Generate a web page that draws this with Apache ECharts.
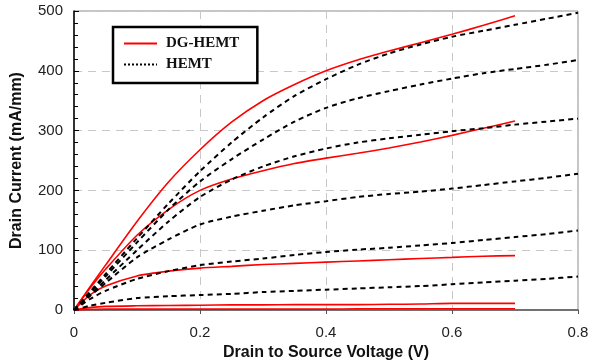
<!DOCTYPE html>
<html>
<head>
<meta charset="utf-8">
<script src="https://cdn.jsdelivr.net/npm/echarts@6/dist/echarts.min.js"></script>
<style>
  html, body { margin: 0; padding: 0; background: #fff; }
  #chart { width: 593px; height: 361px; }
</style>
</head>
<body>
<div id="chart"></div>
<script>
// drain voltage sample points (V)
const vDG = [0, 0.025, 0.05, 0.1, 0.15, 0.2, 0.25, 0.3, 0.35, 0.4, 0.45, 0.5, 0.55, 0.6, 0.65, 0.7];
const vHEMT = [0, 0.025, 0.05, 0.1, 0.15, 0.2, 0.25, 0.3, 0.35, 0.4, 0.45, 0.5, 0.55, 0.6, 0.65, 0.7, 0.75, 0.8];

// DG-HEMT drain current (mA/mm), one array per gate bias
const dg1 = [0, 38, 75, 148, 214, 268, 314, 350, 377, 400, 418, 433, 447, 461, 476, 492];
const dg2 = [0, 36, 68, 125, 168, 200, 219, 233, 245, 254, 262, 271, 281, 292, 304, 316];
const dg3 = [0, 25, 40, 57, 65, 70, 73, 76, 78, 80, 82, 84, 86, 88, 90, 91];
const dg4 = [0, 4, 6, 7, 7.5, 8, 8.5, 8.5, 9, 9, 9, 9.5, 10, 11, 11, 11];
const dg5 = [0, 1, 1.5, 1.5, 1.5, 1.5, 1.5, 1.5, 1.5, 1.5, 2, 2, 2, 2, 2, 2];

// HEMT drain current (mA/mm)
const h1 = [0, 30, 60, 120, 178, 232, 280, 322, 358, 386, 410, 429, 444, 457, 467, 477, 487, 497];
const h2 = [0, 28, 56, 113, 168, 215, 252, 285, 315, 338, 354, 366, 377, 387, 396, 403, 410, 418];
const h3 = [0, 25, 50, 100, 148, 189, 218, 240, 257, 270, 280, 287, 293, 299, 304, 310, 315, 320];
const h4 = [0, 23, 45, 88, 118, 143, 156, 166, 175, 182, 189, 194, 198, 203, 209, 215, 221, 228];
const h5 = [0, 18, 32, 52, 65, 75, 81, 86, 92, 97, 101, 104, 108, 112, 117, 122, 127, 133];
const h6 = [0, 7, 12, 20, 23, 25, 27, 30, 32, 34, 36, 38, 40, 43, 46, 49, 52, 56];

const dgCurves = [dg1, dg2, dg3, dg4, dg5];
const hemtCurves = [h1, h2, h3, h4, h5, h6];

const pairs = (xs, ys) => xs.map((x, i) => [x, ys[i]]);

const series = [];
dgCurves.forEach((c) => {
  series.push({
    name: "DG-HEMT",
    type: "line",
    data: pairs(vDG, c),
    smooth: 0.25,
    symbol: "none",
    z: 2,
    lineStyle: { color: "#ff0000", width: 1.6 },
    itemStyle: { color: "#ff0000" },
  });
});
hemtCurves.forEach((c) => {
  series.push({
    name: "HEMT",
    type: "line",
    data: pairs(vHEMT, c),
    smooth: 0.25,
    symbol: "none",
    z: 3,
    lineStyle: { color: "#000", width: 2, type: [5, 4] },
    itemStyle: { color: "#000" },
  });
});

const chart = echarts.init(document.getElementById("chart"));
chart.setOption({
  animation: false,
  backgroundColor: "#fff",
  grid: {
    left: 74, right: 15, top: 11, bottom: 51,
    outerBoundsMode: "none",
    show: true, borderColor: "#8c8c8c", borderWidth: 1,
  },
  legend: {
    left: 113, top: 27,
    orient: "vertical",
    backgroundColor: "#fff",
    borderColor: "#000",
    borderWidth: 2.5,
    borderRadius: 0,
    padding: [9, 18, 11, 10],
    itemWidth: 33,
    itemHeight: 14,
    itemGap: 6,
    textStyle: {
      fontFamily: "Liberation Serif", fontWeight: "bold", fontSize: 15,
      color: "#111", padding: [0, 0, 0, 4],
    },
    data: [
      { name: "DG-HEMT", itemStyle: { opacity: 0 }, lineStyle: { width: 2 } },
      { name: "HEMT", itemStyle: { opacity: 0 }, lineStyle: { type: [2, 2], width: 2 } },
    ],
  },
  xAxis: {
    type: "value",
    min: 0, max: 0.8, interval: 0.2,
    name: "Drain to Source Voltage (V)",
    nameLocation: "middle",
    nameGap: 29,
    nameTextStyle: { fontFamily: "Liberation Sans", fontWeight: "bold", fontSize: 16, color: "#111" },
    axisLine: { lineStyle: { color: "#555", width: 1.5 } },
    axisTick: { show: true, inside: false, length: 4, lineStyle: { color: "#555" } },
    axisLabel: { fontFamily: "Liberation Sans", fontSize: 15, color: "#222", margin: 15 },
    splitLine: { show: true, lineStyle: { color: "#c8c8c8", type: [8, 6] } },
  },
  yAxis: {
    type: "value",
    min: 0, max: 500, interval: 100,
    name: "Drain Current (mA/mm)",
    nameLocation: "middle",
    nameGap: 49,
    nameTextStyle: { fontFamily: "Liberation Sans", fontWeight: "bold", fontSize: 16, color: "#111" },
    axisLine: { show: true, lineStyle: { color: "#000", width: 1.5 } },
    axisTick: { show: true, inside: true, length: 5, lineStyle: { color: "#000" } },
    minorTick: { show: true, splitNumber: 5, length: 4, lineStyle: { color: "#000" } },
    axisLabel: { fontFamily: "Liberation Sans", fontSize: 15, color: "#222", margin: 11 },
    splitLine: { show: true, lineStyle: { color: "#c8c8c8", type: [8, 6] } },
  },
  series: series,
});
</script>
</body>
</html>
